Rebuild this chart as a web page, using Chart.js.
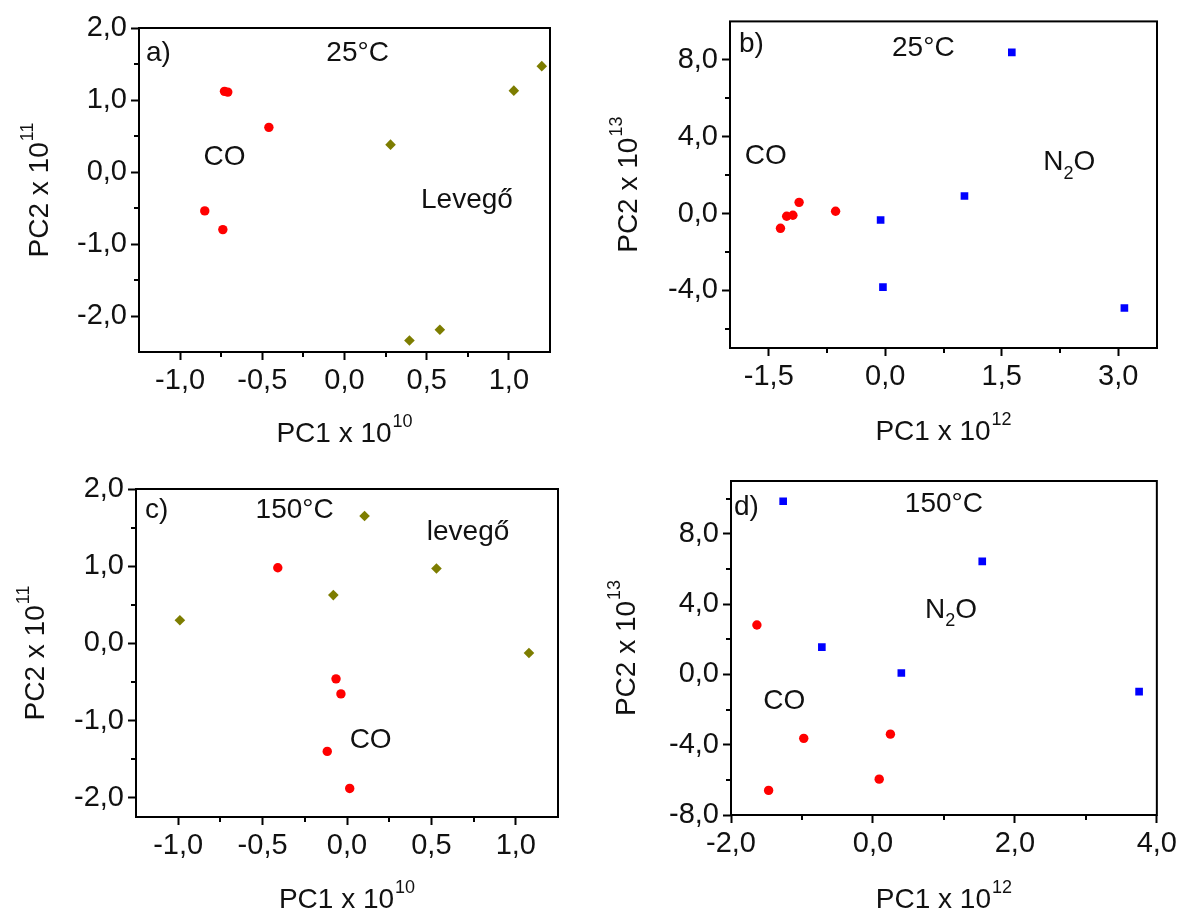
<!DOCTYPE html>
<html>
<head>
<meta charset="utf-8">
<script src="https://cdn.jsdelivr.net/npm/chart.js@4.4.1/dist/chart.umd.min.js"></script>
<style>
  body { margin: 0; background: #fff; width: 1181px; height: 914px; position: relative; overflow: hidden; }
  .panel { position: absolute; }
</style>
</head>
<body>
<div class="panel" style="left:0;top:0;width:590px;height:457px"><canvas id="pa"></canvas></div>
<div class="panel" style="left:590px;top:0;width:591px;height:457px"><canvas id="pb"></canvas></div>
<div class="panel" style="left:0;top:457px;width:590px;height:457px"><canvas id="pc"></canvas></div>
<div class="panel" style="left:590px;top:457px;width:591px;height:457px"><canvas id="pd"></canvas></div>
<script>
// a) 25°C, CO vs air (PC1 x 1e10, PC2 x 1e11)
const aCoX = [-0.73, -0.71, -0.46, -0.85, -0.74];
const aCoY = [1.12, 1.11, 0.62, -0.54, -0.80];
const aAirX = [1.20, 1.03, 0.28, 0.395, 0.58];
const aAirY = [1.47, 1.13, 0.38, -2.34, -2.19];
const aXTicks = [-1.0, -0.5, 0.0, 0.5, 1.0];
const aYTicks = [-2.0, -1.0, 0.0, 1.0, 2.0];
const aXMinor = [-0.75, -0.25, 0.25, 0.75];
const aYMinor = [-1.5, -0.5, 0.5, 1.5];

// b) 25°C, CO vs N2O (PC1 x 1e12, PC2 x 1e13)
const bCoX = [-1.35, -1.27, -1.19, -1.11, -0.64];
const bCoY = [-0.77, -0.14, -0.09, 0.58, 0.12];
const bN2oX = [1.63, 1.02, -0.06, -0.03, 3.08];
const bN2oY = [8.39, 0.91, -0.34, -3.83, -4.92];
const bXTicks = [-1.5, 0.0, 1.5, 3.0];
const bYTicks = [-4.0, 0.0, 4.0, 8.0];
const bXMinor = [-0.75, 0.75, 2.25];
const bYMinor = [-6, -2, 2, 6];

// c) 150°C, CO vs air
const cCoX = [-0.41, -0.065, -0.036, -0.117, 0.016];
const cCoY = [0.98, -0.46, -0.655, -1.40, -1.88];
const cAirX = [0.104, 0.53, -0.081, -0.99, 1.078];
const cAirY = [1.65, 0.97, 0.625, 0.30, -0.125];
const cXTicks = [-1.0, -0.5, 0.0, 0.5, 1.0];
const cYTicks = [-2.0, -1.0, 0.0, 1.0, 2.0];
const cXMinor = [-0.75, -0.25, 0.25, 0.75];
const cYMinor = [-1.5, -0.5, 0.5, 1.5];

// d) 150°C, CO vs N2O
const dN2oX = [-1.265, 1.54, -0.72, 0.40, 3.75];
const dN2oY = [9.85, 6.43, 1.55, 0.075, -0.98];
const dCoX = [-1.635, -0.975, 0.246, 0.088, -1.47];
const dCoY = [2.81, -3.64, -3.40, -5.96, -6.6];
const dXTicks = [-2.0, 0.0, 2.0, 4.0];
const dYTicks = [-8.0, -4.0, 0.0, 4.0, 8.0];
const dXMinor = [-1, 1, 3];
const dYMinor = [-6, -2, 2, 6, 10];

const FONT = '"Liberation Sans", Arial, Helvetica, sans-serif';
const TXT = 28;      // titles and labels
const TICK = 29;     // tick numbers
const RED = '#ff0000', OLIVE = '#7d7d00', BLUE = '#0000ff';

const pts = (xs, ys) => xs.map((x, i) => ({ x: x, y: ys[i] }));
const fmt = v => v.toFixed(1).replace('.', ',');

function series(xs, ys, kind) {
  const st = {
    co: { pointStyle: 'circle', radius: 4.7, color: RED },
    air: { pointStyle: 'rectRot', radius: 5.3, color: OLIVE },
    n2o: { pointStyle: 'rect', radius: 5.4, color: BLUE }
  }[kind];
  return {
    data: pts(xs, ys),
    pointStyle: st.pointStyle,
    pointRadius: st.radius,
    pointHoverRadius: st.radius,
    backgroundColor: st.color,
    borderColor: st.color,
    borderWidth: 0
  };
}

// text made of segments; sub/sup ones smaller and shifted
function richWidth(ctx, segs, size) {
  let w = 0;
  segs.forEach(s => {
    ctx.font = (s.sub || s.sup ? Math.round(size * 0.64) : size) + 'px ' + FONT;
    w += ctx.measureText(s.t).width + (s.sup ? 1 : 0);
  });
  return w;
}
function drawRich(ctx, segs, cx, cy, size) {
  let x = cx - richWidth(ctx, segs, size) / 2;
  ctx.textAlign = 'left';
  ctx.textBaseline = 'middle';
  ctx.fillStyle = '#111';
  segs.forEach(s => {
    const small = s.sub || s.sup;
    ctx.font = (small ? Math.round(size * 0.64) : size) + 'px ' + FONT;
    let dy = 0;
    if (s.sup) { dy = -size * 0.42; x += 1; }
    if (s.sub) dy = size * 0.4;
    ctx.fillText(s.t, x, cy + dy);
    x += ctx.measureText(s.t).width;
  });
}

const panelPlugin = {
  id: 'panel',
  afterDraw(chart, args, o) {
    const ctx = chart.ctx;
    const a = chart.chartArea;
    const xs = chart.scales.x, ys = chart.scales.y;
    ctx.save();
    // minor ticks
    ctx.strokeStyle = '#000';
    ctx.lineWidth = 2;
    ctx.beginPath();
    o.xMinor.forEach(v => {
      const px = Math.round(xs.getPixelForValue(v));
      ctx.moveTo(px, a.bottom); ctx.lineTo(px, a.bottom + 5);
    });
    o.yMinor.forEach(v => {
      const py = Math.round(ys.getPixelForValue(v));
      ctx.moveTo(a.left, py); ctx.lineTo(a.left - 5, py);
    });
    ctx.stroke();
    // frame
    ctx.strokeRect(a.left, a.top, a.right - a.left, a.bottom - a.top);
    // axis titles
    drawRich(ctx, o.xTitle, (a.left + a.right) / 2, a.bottom + o.xTitleGap, TXT);
    ctx.save();
    ctx.translate(o.yTitleX, (a.top + a.bottom) / 2);
    ctx.rotate(-Math.PI / 2);
    drawRich(ctx, o.yTitle, 0, 0, TXT);
    ctx.restore();
    // panel letter
    ctx.font = TXT + 'px ' + FONT;
    ctx.textAlign = 'left';
    ctx.textBaseline = 'middle';
    ctx.fillText(o.letter, a.left + o.letterDx, a.top + o.letterDy);
    // annotations placed in data space
    o.notes.forEach(n => {
      drawRich(ctx, n.segs, xs.getPixelForValue(n.x), ys.getPixelForValue(n.y), TXT);
    });
    ctx.restore();
  }
};

function makePanel(id, cfg) {
  const axis = (ticks, min, max) => ({
    type: 'linear',
    min: min, max: max,
    afterBuildTicks: s => { s.ticks = ticks.map(v => ({ value: v })); },
    grid: { drawOnChartArea: false, drawTicks: true, tickLength: 8, color: '#000', tickWidth: 2 },
    border: { display: false },
    ticks: {
      autoSkip: false, maxRotation: 0, padding: 4, color: '#111',
      font: { family: FONT, size: TICK },
      callback: v => fmt(v)
    }
  });
  const x = axis(cfg.xTicks, cfg.xMin, cfg.xMax);
  x.afterFit = s => { s.height = cfg.xH; };
  const y = axis(cfg.yTicks, cfg.yMin, cfg.yMax);
  y.afterFit = s => { s.width = cfg.yW; };
  return new Chart(document.getElementById(id), {
    type: 'scatter',
    data: { datasets: cfg.datasets },
    options: {
      responsive: true,
      maintainAspectRatio: false,
      animation: false,
      layout: { padding: { top: cfg.padTop, right: cfg.padRight, left: 0, bottom: 0 } },
      scales: { x: x, y: y },
      plugins: {
        legend: { display: false },
        tooltip: { enabled: false },
        panel: cfg.panel
      }
    },
    plugins: [panelPlugin]
  });
}

const T = t => ({ t: t });
const SUP = t => ({ t: t, sup: true });
const SUB = t => ({ t: t, sub: true });

makePanel('pa', {
  datasets: [series(aCoX, aCoY, 'co'), series(aAirX, aAirY, 'air')],
  xMin: -1.25, xMax: 1.25, yMin: -2.5, yMax: 2.0,
  xTicks: aXTicks, yTicks: aYTicks,
  padTop: 28, padRight: 40, yW: 139, xH: 105,
  panel: {
    xMinor: aXMinor, yMinor: aYMinor,
    xTitle: [T('PC1 x 10'), SUP('10')], yTitle: [T('PC2 x 10'), SUP('11')],
    xTitleGap: 82, yTitleX: 40, letter: 'a)', letterDx: 7, letterDy: 25,
    notes: [
      { segs: [T('25°C')], x: 0.08, y: 1.65 },
      { segs: [T('CO')], x: -0.73, y: 0.2 },
      { segs: [T('Levegő')], x: 0.745, y: -0.39 }
    ]
  }
});

makePanel('pb', {
  datasets: [series(bCoX, bCoY, 'co'), series(bN2oX, bN2oY, 'n2o')],
  xMin: -2.0, xMax: 3.5, yMin: -7, yMax: 10,
  xTicks: bXTicks, yTicks: bYTicks,
  padTop: 15, padRight: 24, yW: 140, xH: 109,
  panel: {
    xMinor: bXMinor, yMinor: bYMinor,
    xTitle: [T('PC1 x 10'), SUP('12')], yTitle: [T('PC2 x 10'), SUP('13')],
    xTitleGap: 84, yTitleX: 39, letter: 'b)', letterDx: 9, letterDy: 23,
    notes: [
      { segs: [T('25°C')], x: 0.49, y: 8.62 },
      { segs: [T('CO')], x: -1.54, y: 3.0 },
      { segs: [T('N'), SUB('2'), T('O')], x: 2.37, y: 2.65 }
    ]
  }
});

makePanel('pc', {
  datasets: [series(cCoX, cCoY, 'co'), series(cAirX, cAirY, 'air')],
  xMin: -1.25, xMax: 1.25, yMin: -2.25, yMax: 2.0,
  xTicks: cXTicks, yTicks: cYTicks,
  padTop: 32, padRight: 32, yW: 136, xH: 97,
  panel: {
    xMinor: cXMinor, yMinor: cYMinor,
    xTitle: [T('PC1 x 10'), SUP('10')], yTitle: [T('PC2 x 10'), SUP('11')],
    xTitleGap: 83, yTitleX: 36, letter: 'c)', letterDx: 9, letterDy: 21,
    notes: [
      { segs: [T('150°C')], x: -0.31, y: 1.73 },
      { segs: [T('levegő')], x: 0.717, y: 1.44 },
      { segs: [T('CO')], x: 0.14, y: -1.25 }
    ]
  }
});

makePanel('pd', {
  datasets: [series(dN2oX, dN2oY, 'n2o'), series(dCoX, dCoY, 'co')],
  xMin: -2.0, xMax: 4.0, yMin: -8, yMax: 11,
  xTicks: dXTicks, yTicks: dYTicks,
  padTop: 24, padRight: 23, yW: 141, xH: 99,
  panel: {
    xMinor: dXMinor, yMinor: dYMinor,
    xTitle: [T('PC1 x 10'), SUP('12')], yTitle: [T('PC2 x 10'), SUP('13')],
    xTitleGap: 85, yTitleX: 37, letter: 'd)', letterDx: 3, letterDy: 26,
    notes: [
      { segs: [T('150°C')], x: 1.0, y: 9.69 },
      { segs: [T('N'), SUB('2'), T('O')], x: 1.10, y: 3.66 },
      { segs: [T('CO')], x: -1.25, y: -1.51 }
    ]
  }
});
</script>
</body>
</html>
